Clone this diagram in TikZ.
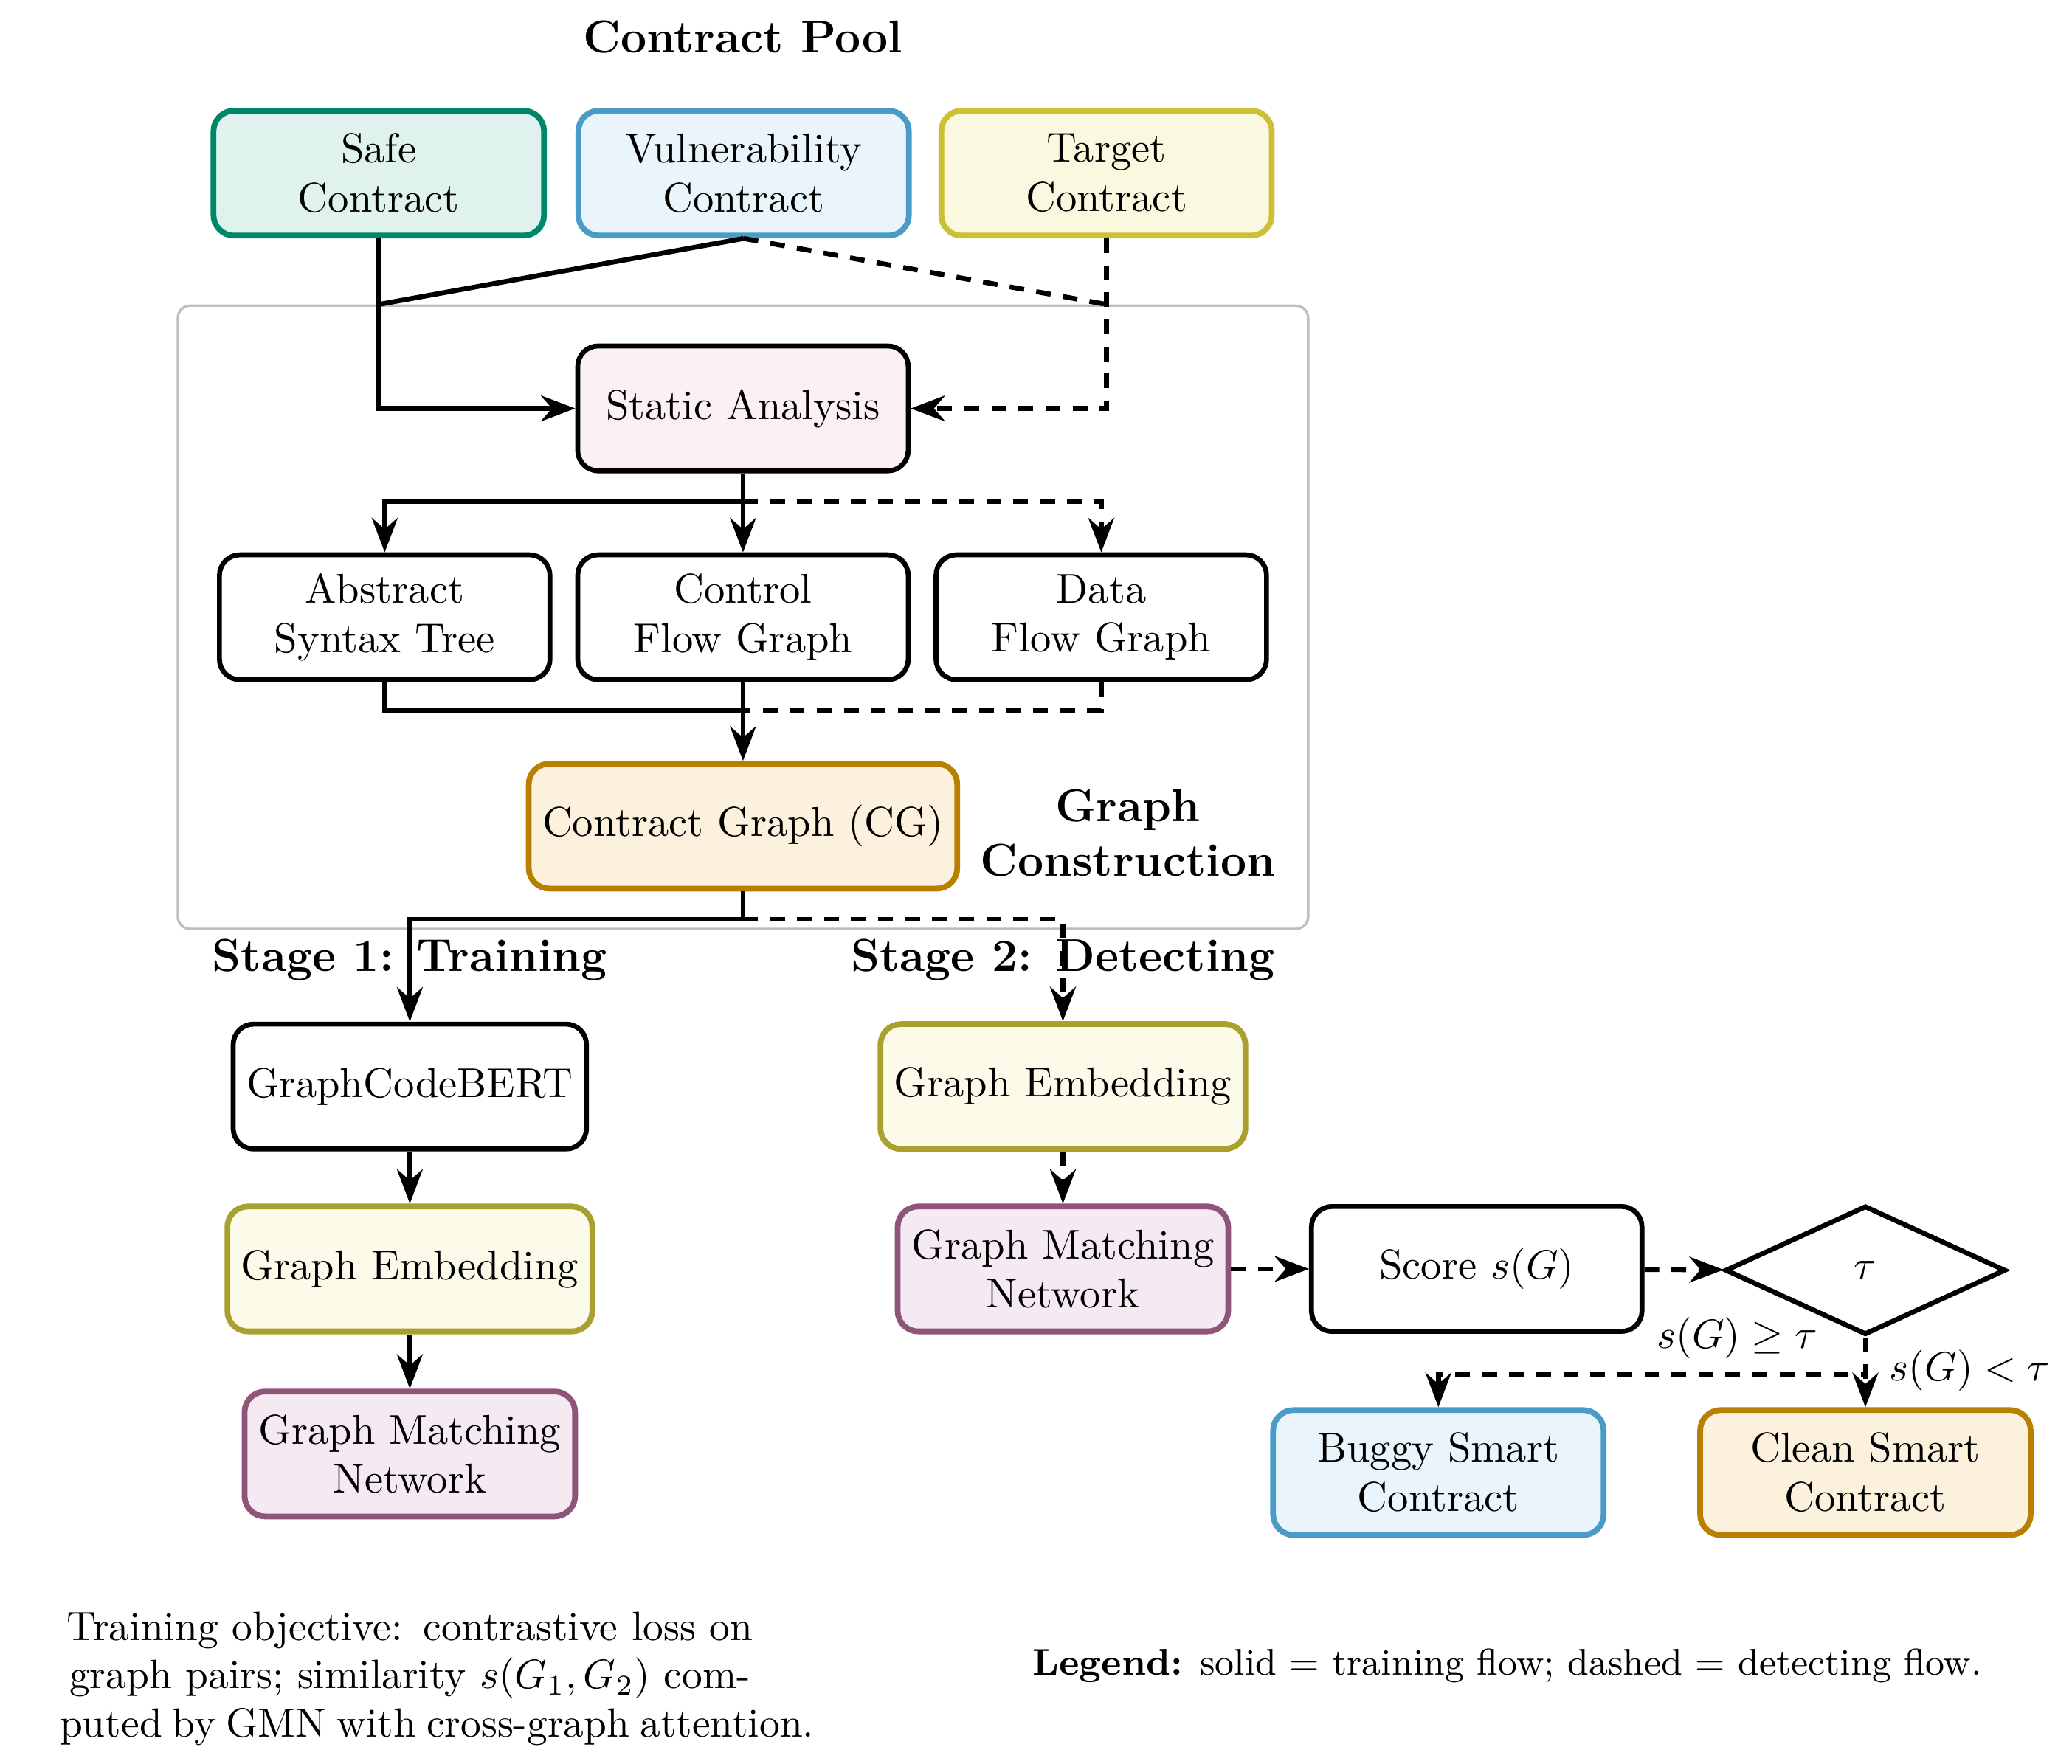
\documentclass[tikz,border=0pt]{standalone}
\usetikzlibrary{arrows.meta,shapes.geometric,calc}
\definecolor{safeB}{HTML}{00876A}
\definecolor{safeF}{HTML}{E0F2EE}
\definecolor{vulnB}{HTML}{4B9BC8}
\definecolor{vulnF}{HTML}{EAF5FB}
\definecolor{targB}{HTML}{CEC036}
\definecolor{targF}{HTML}{FAF9DF}
\definecolor{saF}{HTML}{FAF0F5}
\definecolor{cgB}{HTML}{B88000}
\definecolor{cgF}{HTML}{FCF1DC}
\definecolor{geB}{HTML}{A9A02F}
\definecolor{geF}{HTML}{FCFBEA}
\definecolor{gmnB}{HTML}{8E5578}
\definecolor{gmnF}{HTML}{F5EAF1}
\definecolor{bgB}{HTML}{BEBEBE}
\newcommand{\tightline}[1]{\makebox[170.9pt][l]{\spaceskip=2.5pt\xspaceskip=3.5pt\relax #1}}
\begin{document}
\begin{tikzpicture}[x=0.3228pt,y=-0.3228pt,
  every node/.style={font=\fontsize{10.2}{12}\selectfont},
  box/.style={draw=black, line width=1.2pt, rounded corners=5pt, align=center,
    minimum width=80.7pt, minimum height=30.5pt, inner sep=3.33pt, fill=white},
  cbox/.style={box, line width=1.4pt, draw=#1B, fill=#1F},
  title/.style={font=\fontsize{11.25}{13.3}\selectfont\bfseries, align=center},
  flowline/.style={line width=1.2pt},
  flow/.style={flowline, -{Stealth}},
  dline/.style={flowline, dash pattern=on 3.6pt off 3pt},
  dflow/.style={dline, -{Stealth}},
  lbl/.style={inner sep=1pt}
]
\useasboundingbox (0,0) rectangle (1567.3,1334.3);

% background panel
\node[draw=bgB, fill=white, line width=0.6pt, rounded corners=3pt,
      minimum width=276pt, minimum height=152.2pt, inner sep=0pt] (gc) at (562,467) {};

\node[title] (pool) at (562,28) {Contract Pool};

\node[cbox=safe] (safe) at (286.5,131) {Safe\\Contract};
\node[cbox=vuln] (vuln) at (562.5,131) {Vulnerability\\Contract};
\node[cbox=targ] (target) at (837,131) {Target\\Contract};

\node[box, fill=saF] (sa) at (562,309) {Static Analysis};

\node[box] (ast) at (291,467) {Abstract\\Syntax Tree};
\node[box] (cfg) at (562,467) {Control\\Flow Graph};
\node[box] (dfg) at (833,467) {Data\\Flow Graph};

\node[cbox=cg] (cg) at (562,625) {Contract Graph (CG)};
\node[title] (gclbl) at (853,630) {Graph\\Construction};

\node[title] (st1) at (310,726) {Stage 1: Training};
\node[title] (st2) at (804,726) {Stage 2: Detecting};

\node[box] (gcb) at (310,822) {GraphCodeBERT};
\node[cbox=ge] (ge1) at (310,960) {Graph Embedding};
\node[cbox=gmn] (gmn1) at (310,1100) {Graph Matching\\Network};

\node[cbox=ge] (ge2) at (804,822) {Graph Embedding};
\node[cbox=gmn] (gmn2) at (804,960) {Graph Matching\\Network};
\node[box] (score) at (1117,960) {Score $s(G)$};
\node[draw, line width=1.2pt, diamond, aspect=2.2, minimum width=68.5pt,
      minimum height=31.5pt, inner sep=1pt] (tau) at (1411,961) {$\tau$};

\node[cbox=vuln] (buggy) at (1088,1114) {Buggy Smart\\Contract};
\node[cbox=cg] (clean) at (1411,1114) {Clean Smart\\Contract};

% junctions
\coordinate (j1) at (safe.south |- gc.north);
\coordinate (j2) at (target.south |- gc.north);
\coordinate (s1) at ($(sa.south)+(0,21)$);
\coordinate (m1) at ($(cfg.south)+(0,21)$);
\coordinate (m2) at ($(cg.south)+(0,21)$);
\coordinate (d1) at ($(tau.south)+(0,28)$);

% connectors
\draw[flow] (safe.south) |- (sa.west);
\draw[flowline] (vuln.south) -- (j1);
\draw[dline] (vuln.south) -- (j2);
\draw[dflow] (target.south) |- (sa.east);

\draw[flow] (sa.south) -- (s1) -| (ast.north);
\draw[flow] (sa.south) -- (cfg.north);
\draw[dflow] (s1) -| (dfg.north);

\draw[flowline] (ast.south) |- (m1);
\draw[flow] (cfg.south) -- (cg.north);
\draw[dline] (dfg.south) |- (m1);

\draw[flow] (cg.south) -- (m2) -| (gcb.north);
\draw[dflow] (m2) -| (ge2.north);

\draw[flow] (gcb) -- (ge1);
\draw[flow] (ge1) -- (gmn1);

\draw[dflow] (ge2) -- (gmn2);
\draw[dflow] (gmn2) -- (score);
\draw[dflow] (score) -- (tau);

\draw[dflow] (tau.south) -- (d1) -| (buggy.north);
\draw[dflow] (tau.south) -- (clean.north);
\node[lbl] (lge) at (1314,1012) {$s(G)\geq\tau$};
\node[lbl] (llt) at (1490,1037) {$s(G)<\tau$};

% notes
\node[text width=170.9pt, align=center, inner sep=0pt, font=\fontsize{10}{11.85}\selectfont] (obj) at (310,1270)
  {Training objective: contrastive loss on\\
   graph pairs; similarity $s(G_1,G_2)$ com-\\
   \tightline{puted by GMN with cross-graph attention.}};
\node[inner sep=0pt, font=\fontsize{9.1}{11}\selectfont] (legend) at (1140,1260)
  {\textbf{Legend:} solid = training flow; dashed = detecting flow.};
\end{tikzpicture}
\end{document}
